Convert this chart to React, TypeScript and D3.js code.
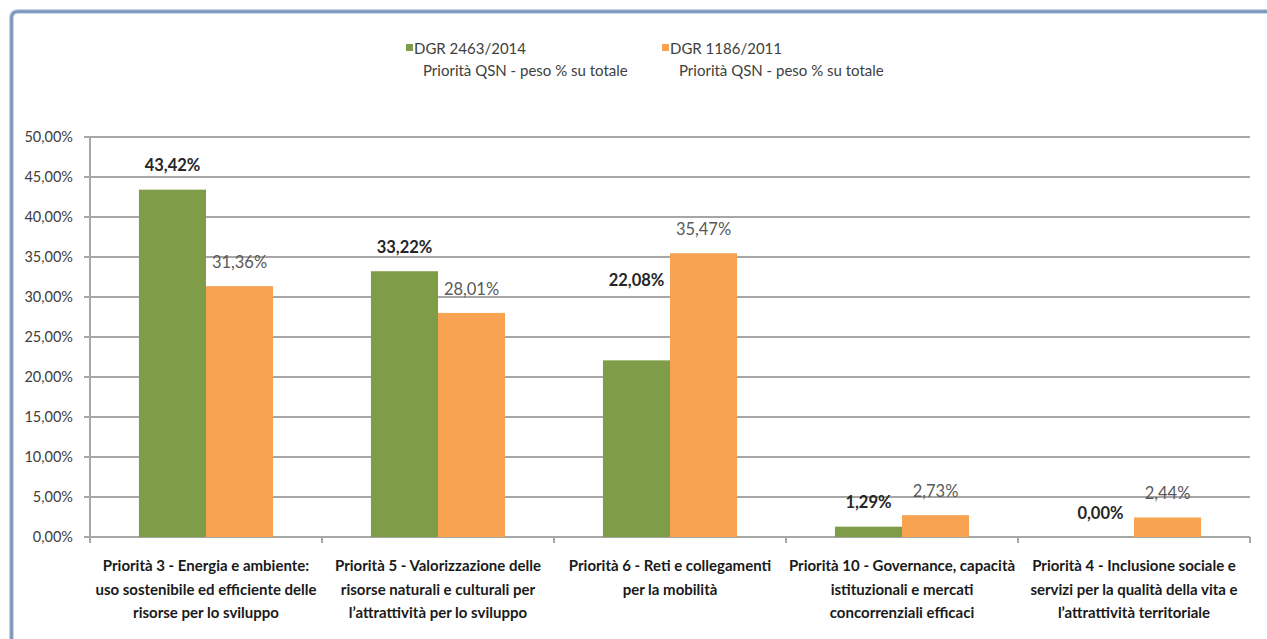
import React, { useEffect, useRef } from "react";
import * as d3 from "d3";

const categories: string[][] = [
  ["Priorità 3 - Energia e ambiente:", "uso sostenibile ed efficiente delle", "risorse per lo sviluppo"],
  ["Priorità 5 - Valorizzazione delle", "risorse naturali e culturali per", "l’attrattività per lo sviluppo"],
  ["Priorità 6 - Reti e collegamenti", "per la mobilità"],
  ["Priorità 10 - Governance, capacità", "istituzionali e mercati", "concorrenziali efficaci"],
  ["Priorità 4 - Inclusione sociale e", "servizi per la qualità della vita e", "l’attrattività territoriale"],
];
const dgr2014: number[] = [43.42, 33.22, 22.08, 1.29, 0.0];
const dgr2011: number[] = [31.36, 28.01, 35.47, 2.73, 2.44];
const yTicks: number[] = [0, 5, 10, 15, 20, 25, 30, 35, 40, 45, 50];
const seriesNames = ["DGR 2463/2014", "DGR 1186/2011"];
const seriesSub = "Priorità QSN - peso % su totale";

const GREEN = "#7f9c48";
const ORANGE = "#f8a352";
const FONT = "Lato, 'Open Sans', sans-serif";

const fmt = (v: number) => v.toFixed(2).replace(".", ",") + "%";

export default function App() {
  const ref = useRef<SVGSVGElement>(null);
  useEffect(() => {
    const svg = d3.select(ref.current);
    svg.selectAll("*").remove();
    const W = 1267, H = 639;
    const left = 90, right = 1250, top = 137, bottom = 537;

    // frame
    svg.append("path")
      .attr("d", `M11.5,${H} L11.5,18 Q11.5,11.5 18,11.5 L${W},11.5`)
      .attr("fill", "none").attr("stroke", "#c5d3e6").attr("stroke-width", 5);
    svg.append("path")
      .attr("d", `M11.5,${H} L11.5,18 Q11.5,11.5 18,11.5 L${W},11.5`)
      .attr("fill", "none").attr("stroke", "#7893b8").attr("stroke-width", 2.5);

    const x0 = d3.scaleBand<number>().domain(d3.range(categories.length)).range([left, right]).paddingInner(0).paddingOuter(0);
    const x1 = d3.scaleBand<number>().domain([0, 1]).range([0, x0.bandwidth()]).paddingInner(0).paddingOuter(0.73);
    const y = d3.scaleLinear().domain([0, 50]).range([bottom, top]);

    const g = svg.append("g");
    g.selectAll("line.grid").data(yTicks).join("line")
      .attr("x1", left - 6).attr("x2", right)
      .attr("y1", (d) => y(d)).attr("y2", (d) => y(d))
      .attr("stroke", "#a6a6a6").attr("stroke-width", 2);
    g.append("line").attr("x1", left).attr("x2", left).attr("y1", top).attr("y2", bottom)
      .attr("stroke", "#a6a6a6").attr("stroke-width", 2);
    g.selectAll("line.xt").data(d3.range(categories.length + 1)).join("line")
      .attr("x1", (i) => left + i * x0.bandwidth()).attr("x2", (i) => left + i * x0.bandwidth())
      .attr("y1", bottom).attr("y2", bottom + 6)
      .attr("stroke", "#a6a6a6").attr("stroke-width", 2);

    g.selectAll("text.yl").data(yTicks).join("text")
      .attr("x", 73).attr("y", (d) => y(d)).attr("dy", "0.35em")
      .attr("text-anchor", "end").attr("font-family", FONT).attr("font-size", 14.5)
      .attr("fill", "#404040").text((d) => d.toFixed(2).replace(".", ",") + "%");

    const series = [dgr2014, dgr2011];
    const colors = [GREEN, ORANGE];
    series.forEach((vals, s) => {
      g.selectAll(`rect.s${s}`).data(vals).join("rect")
        .attr("x", (_, i) => (x0(i) as number) + (x1(s) as number))
        .attr("width", x1.bandwidth())
        .attr("y", (d) => y(d)).attr("height", (d) => bottom - y(d))
        .attr("fill", colors[s]);
    });
    series.forEach((vals, s) => {
      g.selectAll(`text.v${s}`).data(vals).join("text")
        .attr("x", (_, i) => (x0(i) as number) + (x1(s) as number) + x1.bandwidth() / 2)
        .attr("y", (d, i) => y(d) - 24 - (s === 0 && i === 2 ? 56 : 0))
        .attr("dy", "0.35em")
        .attr("text-anchor", "middle").attr("font-family", FONT)
        .attr("font-size", 16.5).attr("font-weight", s === 0 ? "bold" : "normal")
        .attr("fill", s === 0 ? "#262626" : "#595959")
        .text((d) => fmt(d));
    });

    categories.forEach((lines, i) => {
      const cx = (x0(i) as number) + x0.bandwidth() / 2;
      lines.forEach((ln, k) => {
        g.append("text").attr("x", cx).attr("y", 566 + k * 23.5).attr("dy", "0.35em")
          .attr("text-anchor", "middle").attr("font-family", FONT).attr("font-size", 15)
          .attr("font-weight", "bold").attr("fill", "#1a1a1a").text(ln);
      });
    });

    const lx = [409, 665];
    seriesNames.forEach((nm, s) => {
      g.append("rect").attr("x", lx[s] - 3).attr("y", 44).attr("width", 7).attr("height", 7).attr("fill", colors[s]);
      g.append("text").attr("x", lx[s] + 5).attr("y", 49).attr("dy", "0.35em")
        .attr("font-family", FONT).attr("font-size", 15).attr("fill", "#404040").text(nm);
      g.append("text").attr("x", lx[s] + 14).attr("y", 71).attr("dy", "0.35em")
        .attr("font-family", FONT).attr("font-size", 15).attr("fill", "#404040").text(seriesSub);
    });
  }, []);
  return (
    <svg ref={ref} width={1267} height={639}
      style={{ position: "absolute", left: 0, top: 0, background: "#fff" }} />
  );
}
